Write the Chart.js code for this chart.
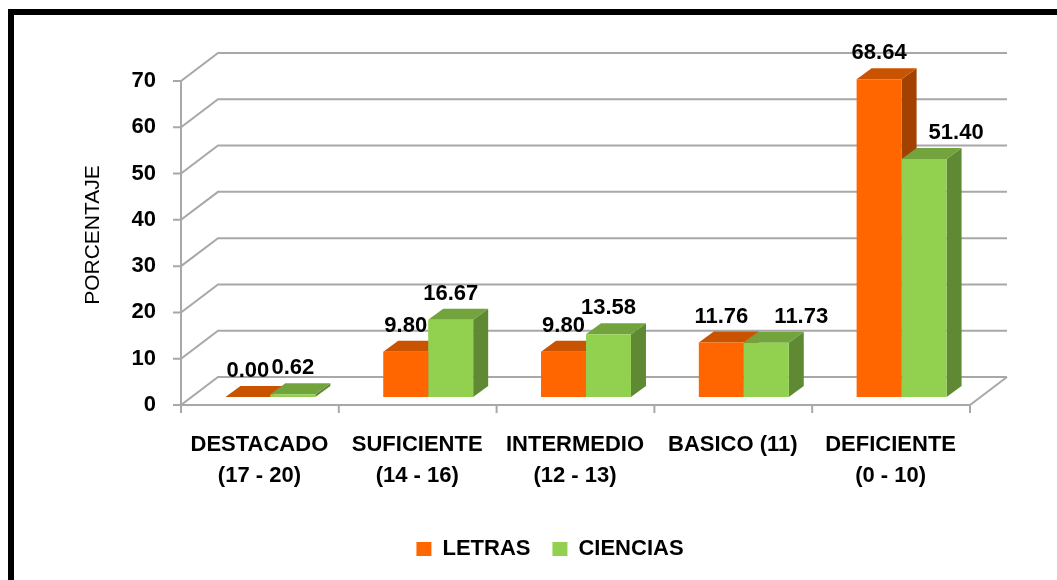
<!DOCTYPE html>
<html>
<head>
<meta charset="utf-8">
<script src="https://cdn.jsdelivr.net/npm/chart.js@4.4.1/dist/chart.umd.min.js"></script>
<style>
  html, body { margin: 0; padding: 0; background: #fff; }
  #frame { position: absolute; left: 8px; top: 9px; width: 1200px; height: 800px; border: 6px solid #000; }
  #wrap { position: absolute; left: 0; top: 0; width: 1057px; height: 580px; }
</style>
</head>
<body>
<div id="frame"></div>
<div id="wrap"><canvas id="myChart" width="1057" height="580"></canvas></div>
<script>
const categories = [
  ["DESTACADO", "(17 - 20)"],
  ["SUFICIENTE", "(14 - 16)"],
  ["INTERMEDIO", "(12 - 13)"],
  "BASICO (11)",
  ["DEFICIENTE", "(0 - 10)"]
];
const letras = [0.00, 9.80, 9.80, 11.76, 68.64];
const ciencias = [0.62, 16.67, 13.58, 11.73, 51.40];
const seriesNames = ["LETRAS", "CIENCIAS"];
const yMax = 70;
const yStep = 10;

const FONT = '"Liberation Sans", Arial, sans-serif';

// offsets of the front floor and the back wall relative to the bar plane
const front = { dx: -10.5, dy: 8 };
const back = { dx: 26.5, dy: -20 };
// depth of each column
const depth = { dx: 15, dy: -11 };
const shades = [
  { top: "#C95300", side: "#A34200" },
  { top: "#72A33D", side: "#5F8A33" }
];
// a couple of value labels sit to the right of their column
const labelNudge = [[0, 0, 0, 0, 0], [0, 0, 0, 35, 32]];

const poly = (ctx, pts, color) => {
  ctx.beginPath();
  ctx.moveTo(pts[0][0], pts[0][1]);
  for (let i = 1; i < pts.length; i++) ctx.lineTo(pts[i][0], pts[i][1]);
  ctx.closePath();
  ctx.fillStyle = color;
  ctx.fill();
};

const box3d = {
  id: "box3d",
  beforeDatasetsDraw(chart) {
    const ctx = chart.ctx;
    const xs = chart.scales.x;
    const ys = chart.scales.y;
    const left = chart.chartArea.left;
    const right = chart.chartArea.right;
    const y0 = ys.getPixelForValue(0);
    const yTop = ys.getPixelForValue(yMax);

    ctx.save();
    ctx.strokeStyle = "#A8A8A8";
    ctx.lineWidth = 2;
    // gridlines on the wall, with tick marks on the front axis
    ys.ticks.forEach((t) => {
      const py = ys.getPixelForValue(t.value);
      ctx.beginPath();
      ctx.moveTo(left + front.dx - 8, py + front.dy);
      ctx.lineTo(left + front.dx, py + front.dy);
      ctx.lineTo(left + back.dx, py + back.dy);
      ctx.lineTo(right + back.dx, py + back.dy);
      ctx.stroke();
    });
    // front axis and floor edge
    ctx.beginPath();
    ctx.moveTo(left + front.dx, yTop + front.dy);
    ctx.lineTo(left + front.dx, y0 + front.dy);
    ctx.lineTo(right + front.dx, y0 + front.dy);
    ctx.lineTo(right + back.dx, y0 + back.dy);
    ctx.stroke();
    // category separators
    for (let i = 0; i <= categories.length; i++) {
      const px = xs.getPixelForValue(i - 0.5) + front.dx;
      ctx.beginPath();
      ctx.moveTo(px, y0 + front.dy);
      ctx.lineTo(px, y0 + front.dy + 8);
      ctx.stroke();
    }

    // top and side faces of the columns
    chart.data.datasets.forEach((ds, di) => {
      chart.getDatasetMeta(di).data.forEach((bar) => {
        const { x, y, base, width } = bar.getProps(["x", "y", "base", "width"], true);
        const l = x - width / 2;
        const r = x + width / 2;
        poly(ctx, [[r, y], [r + depth.dx, y + depth.dy], [r + depth.dx, base + depth.dy], [r, base]], shades[di].side);
        poly(ctx, [[l, y], [r, y], [r + depth.dx, y + depth.dy], [l + depth.dx, y + depth.dy]], shades[di].top);
      });
    });
    ctx.restore();
  },
  afterDatasetsDraw(chart) {
    const ctx = chart.ctx;
    ctx.save();
    ctx.font = "bold 22px " + FONT;
    ctx.fillStyle = "#000";
    ctx.textAlign = "center";
    ctx.textBaseline = "middle";
    chart.data.datasets.forEach((ds, di) => {
      chart.getDatasetMeta(di).data.forEach((bar, i) => {
        const { x, y } = bar.getProps(["x", "y"], true);
        ctx.fillText(ds.data[i].toFixed(2), x + labelNudge[di][i], y - 26);
      });
    });
    ctx.restore();
  }
};

const ctx = document.getElementById("myChart").getContext("2d");
const myChart = new Chart(ctx, {
  type: "bar",
  data: {
    labels: categories,
    datasets: [
      { label: seriesNames[0], data: letras, backgroundColor: "#FF6600", borderWidth: 0 },
      { label: seriesNames[1], data: ciencias, backgroundColor: "#92D050", borderWidth: 0 }
    ]
  },
  options: {
    responsive: false,
    animation: false,
    devicePixelRatio: 1,
    categoryPercentage: 0.57,
    barPercentage: 1,
    layout: { padding: { left: 119.5, right: 76.5, top: 73, bottom: 10 } },
    scales: {
      x: {
        grid: { display: false, drawTicks: false },
        border: { display: false },
        ticks: {
          color: "#000",
          font: { family: FONT, size: 22, weight: "bold", lineHeight: 1.4 },
          padding: 33,
          labelOffset: -11,
          maxRotation: 0,
          autoSkip: false
        },
        afterFit: (s) => { s.height = 119; }
      },
      y: {
        min: 0,
        max: yMax,
        grid: { display: false, drawTicks: false },
        border: { display: false },
        ticks: {
          stepSize: yStep,
          color: "#000",
          font: { family: FONT, size: 22, weight: "bold" },
          padding: 35.5,
          labelOffset: 8
        },
        title: {
          display: true,
          text: "PORCENTAJE",
          color: "#000",
          font: { family: FONT, size: 21 },
          padding: { top: -38.5, bottom: 0 }
        },
        afterFit: (s) => { s.width = 72; }
      }
    },
    plugins: {
      legend: {
        position: "bottom",
        labels: {
          boxWidth: 15,
          boxHeight: 14,
          padding: 22,
          color: "#000",
          font: { family: FONT, size: 22, weight: "bold" }
        }
      },
      tooltip: { enabled: false }
    }
  },
  plugins: [box3d]
});
</script>
</body>
</html>
